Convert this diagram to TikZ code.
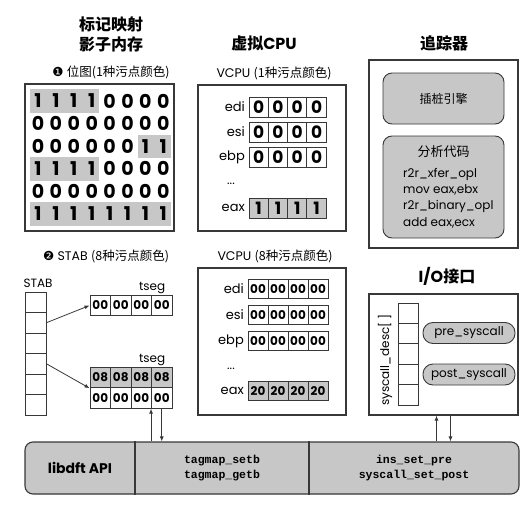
\documentclass[tikz,border=0pt]{standalone}
\usepackage{fontspec}
\setmainfont{Poppins}
\setmonofont{Liberation Mono}
\newfontfamily\cjk{Noto Sans CJK SC}
\newfontfamily\dingfont{DejaVu Sans}
\usetikzlibrary{arrows.meta,backgrounds}

\definecolor{taintgray}{gray}{0.78}
\definecolor{edgegray}{gray}{0.22}

\newcommand{\fsz}[2]{\fontsize{#1}{#2}\selectfont}

\tikzset{
	panel/.style={draw=edgegray, line width=1.1pt, inner sep=0pt},
	engine/.style={draw=edgegray, line width=0.9pt, fill=taintgray, rounded corners=9pt, inner sep=0pt},
	pill/.style={draw=edgegray, line width=0.9pt, fill=taintgray, rounded corners=10pt, inner sep=0pt,
		minimum width=92pt, minimum height=21pt, font=\fsz{12}{14}},
	heading/.style={font=\bfseries\fsz{16}{20}, align=center},
	caption/.style={font=\fsz{12.5}{15}},
	reglabel/.style={font=\fsz{13}{15}, anchor=east, inner sep=1pt},
	bitdigit/.style={minimum width=15pt, minimum height=23pt, inner sep=0pt, font=\bfseries\fsz{19}{20}},
	bigcell/.style={draw=edgegray, line width=0.9pt, minimum width=19.3pt, minimum height=20pt,
		inner sep=0pt, font=\bfseries\fsz{17}{18}},
	smallcell/.style={draw=edgegray, line width=0.9pt, minimum width=20pt, minimum height=19pt,
		inner sep=0pt, font=\bfseries\fsz{12}{13}},
	segcell/.style={draw=edgegray, line width=0.9pt, minimum width=20.5pt, minimum height=20.5pt,
		inner sep=0pt, font=\bfseries\fsz{12}{13}},
	slot/.style={draw=edgegray, line width=0.8pt, minimum width=21pt, minimum height=20.5pt, inner sep=0pt},
	ptr/.style={-{Latex[length=5pt,width=4pt]}, line width=0.8pt, draw=edgegray},
}

\begin{document}
\begin{tikzpicture}[x=1pt, y=-1pt]

	\useasboundingbox (0,0) rectangle (531,506);

	% ---- headings

	\node[heading] (hmap) at (111,34) {{\cjk\bfseries 标记映射}\\{\cjk\bfseries 影子内存}};
	\node[heading] (hcpu) at (264,43) {{\cjk\bfseries 虚拟}CPU};
	\node[heading] (htracer) at (444,43) {{\cjk\bfseries 追踪器}};
	\node[heading] (hio) at (447,276) {I/O{\cjk\bfseries 接口}};

	\node[caption] (cbitmap) at (111,72) {{\dingfont\fsz{12.5}{15}❶} {\cjk 位图(1种污点颜色)}};
	\node[caption] (cvcpuA) at (274,73) {VCPU {\cjk (1种污点颜色)}};
	\node[caption] (cstab) at (106,256) {{\dingfont\fsz{12.5}{15}❷} STAB {\cjk (8种污点颜色)}};
	\node[caption] (cvcpuB) at (275,256) {VCPU {\cjk (8种污点颜色)}};

	% ---- bitmap

	\node[panel, minimum width=149pt, minimum height=147pt] (bitmap) at (99.5,157.5) {};

	\foreach \row [count=\r] in {{1,1,1,1,0,0,0,0},{0,0,0,0,0,0,0,0},{0,0,0,0,0,0,1,1},
		{1,1,1,1,0,0,0,0},{0,0,0,0,0,0,0,0},{1,1,1,1,1,1,1,1}} {
		\foreach \bit [count=\c] in \row {
			\node[bitdigit] (bit-\r-\c) at ({38+17.9*(\c-1)},{101+22.6*(\r-1)}) {\bit};
		}
	}

	\begin{scope}[on background layer]
		\foreach \r/\a/\b in {1/1/4, 3/7/8, 4/1/4, 6/1/8} {
			\fill[taintgray] (bit-\r-\a.north west) rectangle (bit-\r-\b.south east);
		}
	\end{scope}

	% ---- vcpu, one colour

	\node[panel, minimum width=148pt, minimum height=146pt] (vcpuA) at (272,158) {};

	\foreach \reg/\y/\val/\tone in {edi/107/0/white, esi/132/0/white, ebp/157/0/white, eax/208/1/taintgray} {
		\node[reglabel] (regA-\reg) at (246,\y) {\reg};
		\foreach \i in {1,...,4} {
			\node[bigcell, fill=\tone] (regA-\reg-\i) at ({249+19.3*(\i-0.5)},\y) {\val};
		}
	}
	\node[font=\fsz{12}{14}] (dotsA) at (231,184) {...};

	% ---- vcpu, eight colours

	\node[panel, minimum width=148pt, minimum height=147pt] (vcpuB) at (272,341.5) {};

	\foreach \reg/\y/\val/\tone in {edi/289/00/white, esi/315/00/white, ebp/341/00/white, eax/391/20/taintgray} {
		\node[reglabel] (regB-\reg) at (245,\y) {\reg};
		\foreach \i in {1,...,4} {
			\node[smallcell, fill=\tone] (regB-\reg-\i) at ({248+20*(\i-0.5)},\y) {\val};
		}
	}
	\node[font=\fsz{12}{14}] (dotsB) at (231,369) {...};

	% ---- stab

	\node[font=\fsz{12}{14}] (stablabel) at (38,283) {STAB};

	\foreach \i in {1,...,6} {
		\node[slot] (stab-\i) at (35.5,{302.25+20.5*(\i-1)}) {};
	}

	\foreach \i in {1,...,4} {
		\node[segcell] (segA-\i) at ({90+20.5*(\i-0.5)},305.5) {00};
		\node[segcell, fill=taintgray] (segB-\i) at ({90+20.5*(\i-0.5)},377.5) {08};
	}
	\foreach \i in {5,...,8} {
		\node[segcell] (segB-\i) at ({90+20.5*(\i-4.5)},398) {00};
	}

	\node[font=\fsz{12}{14}, anchor=south east, inner sep=1pt] (tsegA) at ([xshift=-6pt]segA-4.north east) {tseg};
	\node[font=\fsz{12}{14}, anchor=south east, inner sep=1pt] (tsegB) at ([xshift=-6pt]segB-4.north east) {tseg};

	\draw[ptr] (stab-2.east) -- (segA-1.west);
	\draw[ptr] (stab-4.east) -- (segB-1.south west);

	% ---- tracer

	\node[panel, minimum width=149pt, minimum height=188pt] (tracer) at (443.5,154) {};
	\node[engine, minimum width=121pt, minimum height=51pt, font=\cjk\fsz{12}{14}] (instr) at (443.5,98.5) {插桩引擎};
	\node[engine, minimum width=121pt, minimum height=102pt] (analysis) at (443.5,187) {};
	\node[font=\cjk\fsz{13}{15}] (analysistitle) at (443.5,152) {分析代码};
	\node[anchor=west, align=left, inner sep=0pt, font=\fsz{12}{16.3}] (analysiscode) at (403,198)
		{r2r\_xfer\_opl\\mov eax,ebx\\r2r\_binary\_opl\\add eax,ecx};

	% ---- i/o interface

	\node[panel, minimum width=149pt, minimum height=121pt] (io) at (443.5,354.5) {};

	\foreach \i in {1,...,5} {
		\node[slot, minimum width=20pt, minimum height=20.4pt] (desc-\i) at (408,{313.2+20.4*(\i-1)}) {};
	}
	\node[rotate=90, font=\fsz{12}{14}] (desclabel) at (385,360) {syscall\_desc[ ]};

	\node[pill] (pre) at (469,333) {pre\_syscall};
	\node[pill] (post) at (469,374.5) {post\_syscall};

	% ---- libdft api

	\node[draw=edgegray, line width=1.1pt, fill=taintgray, rounded corners=8pt,
		minimum width=494pt, minimum height=52pt] (api) at (272,468) {};

	\coordinate (apisep1) at (135,468);
	\coordinate (apisep2) at (309,468);
	\draw[line width=1.1pt, draw=edgegray] (apisep1 |- api.north) -- (apisep1 |- api.south);
	\draw[line width=1.1pt, draw=edgegray] (apisep2 |- api.north) -- (apisep2 |- api.south);

	\node[font=\bfseries\fsz{14}{16}] (apiname) at (80,468) {libdft API};
	\node[font=\ttfamily\bfseries\fsz{11.5}{15}, align=center] (apitag) at (222,468) {tagmap\_setb\\tagmap\_getb};
	\node[font=\ttfamily\bfseries\fsz{11.5}{15}, align=center] (apiio) at (414,468) {ins\_set\_pre\\syscall\_set\_post};

	% ---- calls into the api

	\draw[ptr] (segB-8.south west |- api.north) -- (segB-8.south west);
	\draw[ptr] (segB-8.south) -- (segB-8.south |- api.north);

	\coordinate (ioup) at ([xshift=-7pt]io.south);
	\coordinate (iodown) at ([xshift=7pt]io.south);
	\draw[ptr] (ioup |- api.north) -- (ioup);
	\draw[ptr] (iodown) -- (iodown |- api.north);

\end{tikzpicture}
\end{document}
